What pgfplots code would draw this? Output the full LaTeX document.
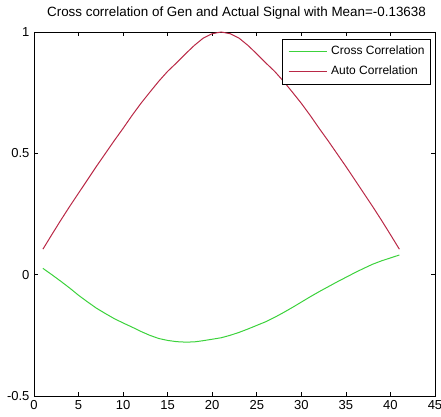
\documentclass[border=0pt]{standalone}
\usepackage{pgfplots}
\pgfplotsset{compat=1.18}
\usepackage{fontspec}
\setmainfont{Liberation Sans}
\definecolor{mgreen}{RGB}{60,210,60}
\definecolor{mred}{RGB}{185,40,70}
\begin{document}
\begin{tikzpicture}[x=1pt,y=1pt]
\path[use as bounding box] (-34,-20) rectangle (407,396);
\begin{axis}[
  at={(0,0)}, anchor=south west,
  scale only axis, width=401pt, height=364pt,
  xmin=0, xmax=45, ymin=-0.5, ymax=1,
  xtick={0,5,...,45}, ytick={-0.5,0,0.5,1},
  tick align=inside, major tick length=4pt,
  tick style={black, line width=0.6pt},
  axis line style={black, line width=0.8pt},
  /pgf/number format/assume math mode=true,
  ticklabel style={font=\fontsize{13}{13}\selectfont},
  xticklabel style={yshift=-1pt},
  yticklabel style={xshift=-1pt},
  title={Cross correlation of Gen and Actual Signal with Mean=-0.13638},
  title style={at={(0.5,1)}, anchor=base, yshift=9pt, xshift=2pt, inner sep=0pt, font=\fontsize{13.4}{14}\selectfont},
  legend style={at={(0.99,0.981)}, anchor=north east, font=\fontsize{12}{12}\selectfont,
    line width=0.8pt, inner xsep=6pt, inner ysep=6.5pt,
    nodes={inner sep=0pt, text height=9pt, text depth=3pt}, row sep=8pt,
    /tikz/every odd column/.append style={column sep=4pt}},
  legend cell align=left,
]
\addplot[draw=mgreen, line width=1pt,
  legend image code/.code={\draw[draw=mgreen, line width=1pt] (0pt,0pt) -- (38pt,0pt);}] coordinates {
(1,0.026) (2,0.000) (3,-0.027) (4,-0.055) (5,-0.085) (6,-0.112) (7,-0.138) (8,-0.160)
(9,-0.181) (10,-0.199) (11,-0.216) (12,-0.234) (13,-0.250) (14,-0.263) (15,-0.271)
(16,-0.276) (17,-0.278) (18,-0.277) (19,-0.272) (20,-0.266) (21,-0.260) (22,-0.250)
(23,-0.238) (24,-0.224) (25,-0.209) (26,-0.194) (27,-0.176) (28,-0.156) (29,-0.135)
(30,-0.113) (31,-0.091) (32,-0.070) (33,-0.050) (34,-0.030) (35,-0.011) (36,0.008)
(37,0.026) (38,0.043) (39,0.057) (40,0.069) (41,0.081)
};
\addlegendentry{Cross Correlation}
\addplot[draw=mred, line width=1pt,
  legend image code/.code={\draw[draw=mred, line width=1pt] (0pt,0pt) -- (38pt,0pt);}] coordinates {
(1,0.105) (2,0.165) (3,0.224) (4,0.281) (5,0.336) (6,0.391) (7,0.446) (8,0.499)
(9,0.552) (10,0.603) (11,0.656) (12,0.706) (13,0.752) (14,0.797) (15,0.838)
(16,0.873) (17,0.910) (18,0.945) (19,0.975) (20,0.993) (21,1.000) (22,0.993)
(23,0.975) (24,0.945) (25,0.910) (26,0.873) (27,0.838) (28,0.797) (29,0.752)
(30,0.706) (31,0.656) (32,0.603) (33,0.552) (34,0.499) (35,0.446) (36,0.391)
(37,0.336) (38,0.281) (39,0.224) (40,0.165) (41,0.105)
};
\addlegendentry{Auto Correlation}
\end{axis}
\end{tikzpicture}
\end{document}
